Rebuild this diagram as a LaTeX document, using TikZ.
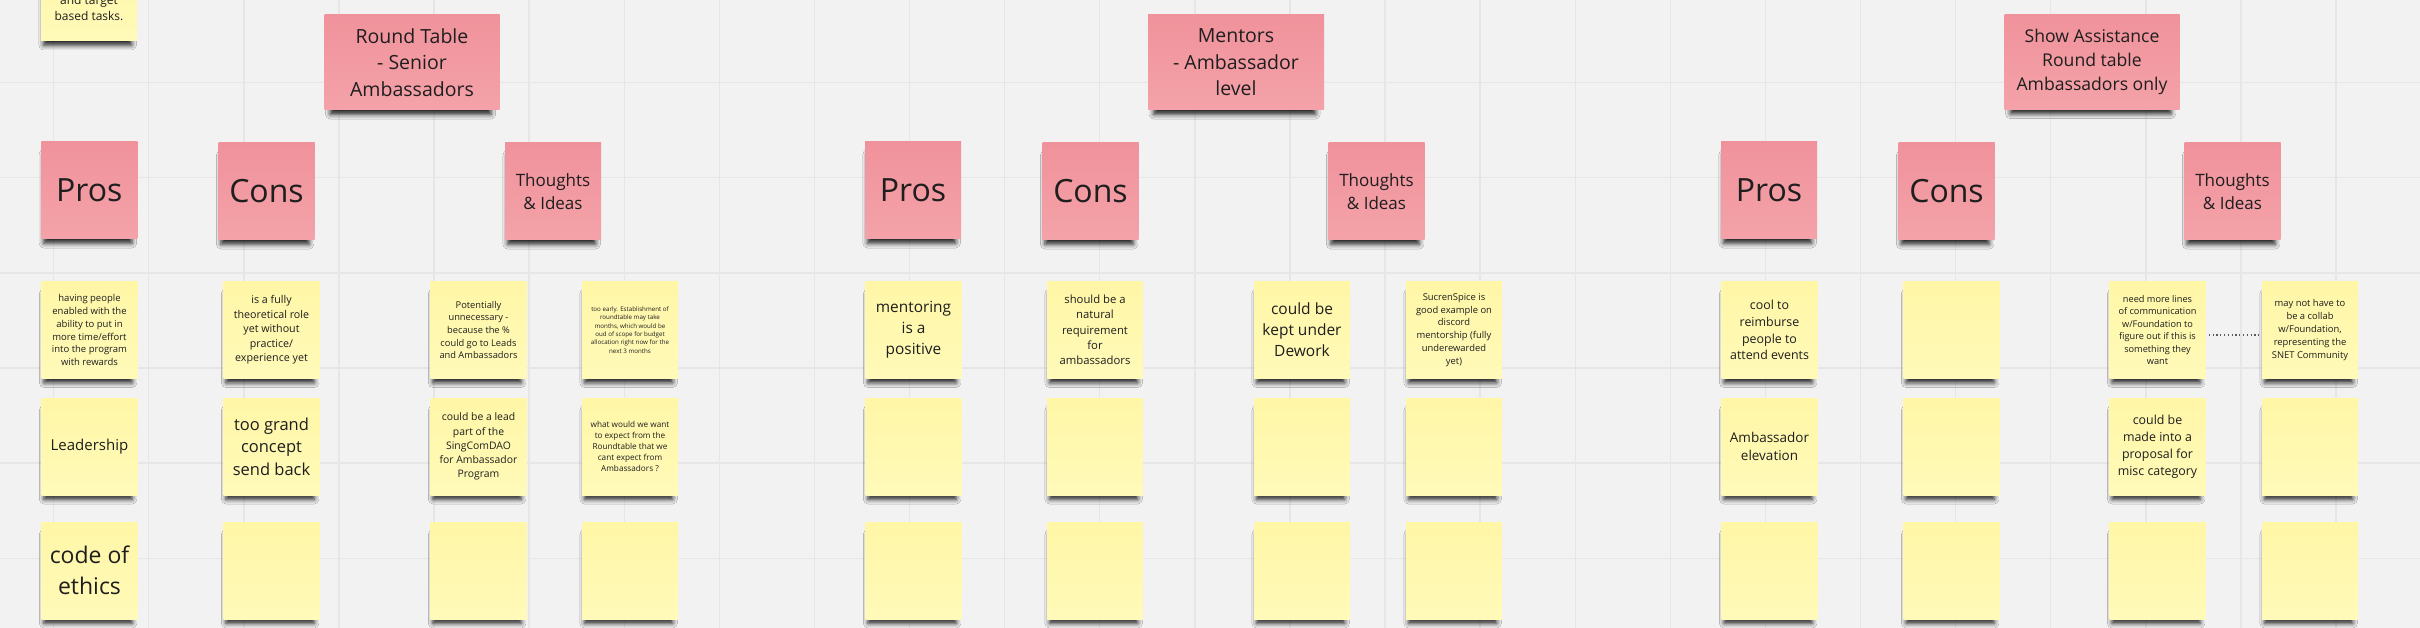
\documentclass[tikz,border=0pt]{standalone}
\usepackage{fontspec}
\setmainfont{Open Sans}
\usetikzlibrary{shadows.blur}
\definecolor{sfondo}{HTML}{F2F2F2}
\definecolor{griglia}{HTML}{E6E6E6}
\definecolor{gialloA}{HTML}{FFF6A6}
\definecolor{gialloB}{HTML}{FFFAB9}
\definecolor{rosaA}{HTML}{F0929B}
\definecolor{rosaB}{HTML}{F4A2A9}
\definecolor{testo}{HTML}{1E1E1E}
\newcommand\corpo[1]{\fontsize{#1}{\dimexpr#1pt*136/100\relax}\selectfont}
\begin{document}
\begin{tikzpicture}[x=1pt, y=-1pt,
    nota/.style={minimum width=96pt, minimum height=97pt, inner sep=0pt, align=center,
        top color=gialloA, bottom color=gialloB, text=testo,
        blur shadow={shadow xshift=-1.5pt, shadow yshift=-9pt, shadow scale=0.92,
            shadow opacity=85, shadow blur radius=5pt}},
    rosa/.style={nota, top color=rosaA, bottom color=rosaB},
    titolo/.style={rosa, minimum width=175pt, minimum height=95pt},
    puntini/.style={line width=1.3pt, color=black!65, dash pattern=on 1.2pt off 2.6pt,
        shorten <=3pt, shorten >=3pt}]
            \useasboundingbox (0,0) rectangle (2420,628);
            \fill[sfondo] (0,0) rectangle (2420,628);
            %griglia
            \foreach \i in {0,...,24}
                \draw[griglia, line width=1.4pt] ({53.6+95.1*\i},0) -- ({53.6+95.1*\i},628);
            \foreach \j in {0,...,5}
                \draw[griglia, line width=1.4pt] (0,{82.7+95.1*\j}) -- (2420,{82.7+95.1*\j});
            %nota tagliata in alto
            \node[nota] (vecchia) at (89,-7.5) {};
            \node[anchor=south, inner sep=0pt, align=center, text=testo, font=\corpo{12}] (vecchiatesto) at (89,20.7) {and target\\based tasks.};
            %titoli
            \node[titolo, font=\corpo{19.5}] (rt) at (412,62.5) {Round Table\\- Senior\\Ambassadors};
            \node[titolo, minimum width=176pt, font=\corpo{19.5}] (mn) at (1236,62.5) {Mentors\\- Ambassador\\level};
            \node[titolo, font=\corpo{17.6}] (sa) at (2092,62) {Show Assistance\\Round table\\Ambassadors only};
            %intestazioni
            \node[rosa, font=\corpo{32}] (pro1) at (89.3,190.5) {Pros};
            \node[rosa, font=\corpo{32}] (con1) at (266.5,191.5) {Cons};
            \node[rosa, font=\corpo{17}] (ide1) at (553,191.5) {Thoughts\\\& Ideas};
            \node[rosa, font=\corpo{32}] (pro2) at (913,190.5) {Pros};
            \node[rosa, font=\corpo{32}] (con2) at (1090.5,191.5) {Cons};
            \node[rosa, font=\corpo{17}] (ide2) at (1376.5,191.5) {Thoughts\\\& Ideas};
            \node[rosa, font=\corpo{32}] (pro3) at (1769,190.5) {Pros};
            \node[rosa, font=\corpo{32}] (con3) at (1946.5,191.5) {Cons};
            \node[rosa, font=\corpo{17}] (ide3) at (2232.5,191.5) {Thoughts\\\& Ideas};
            %note round table
            \node[nota, font=\corpo{9.5}] (pro1a) at (89.5,330) {having people\\enabled with the\\ability to put in\\more time/effort\\into the program\\with rewards};
            \node[nota, font=\corpo{15}] (pro1b) at (89.5,446.5) {Leadership};
            \node[nota, font=\corpo{23}] (pro1c) at (89.5,570.5) {code of\\ethics};
            \node[nota, font=\corpo{10.7}] (con1a) at (271.5,330) {is a fully\\theoretical role\\yet without\\practice/\\experience yet};
            \node[nota, font=\corpo{16.5}] (con1b) at (271.5,446.5) {too grand\\concept\\send back};
            \node[nota, font=\corpo{9.3}] (ida1a) at (478.5,330) {Potentially\\unnecessary -\\because the \%\\could go to Leads\\and Ambassadors};
            \node[nota, font=\corpo{10.4}] (ida1b) at (478.5,446.5) {could be a lead\\part of the\\SingComDAO\\for Ambassador\\Program};
            \node[nota, font=\corpo{6.2}] (idb1a) at (630,330) {too early. Establishment of\\roundtable may take\\months, which would be\\oud of scope for budget\\allocation right now for the\\next 3 months};
            \node[nota, font=\corpo{8.2}] (idb1b) at (630,446.5) {what would we want\\to expect from the\\Roundtable that we\\cant expect from\\Ambassadors ?};
            %note mentors
            \node[nota, font=\corpo{15.4}] (pro2a) at (913.5,330) {mentoring\\is a\\positive};
            \node[nota, font=\corpo{11.3}] (con2a) at (1095,330) {should be a\\natural\\requirement\\for\\ambassadors};
            \node[nota, font=\corpo{15.5}] (ida2a) at (1302,330) {could be\\kept under\\Dework};
            \node[nota, font=\corpo{9.4}] (idb2a) at (1454,330) {SucrenSpice is\\good example on\\discord\\mentorship (fully\\underewarded\\yet)};
            %note show assistance
            \node[nota, font=\corpo{12.4}] (pro3a) at (1769.5,330) {cool to\\reimburse\\people to\\attend events};
            \node[nota, font=\corpo{13.5}] (pro3b) at (1769.5,446.5) {Ambassador\\elevation};
            \node[nota, font=\corpo{9.2}] (ida3a) at (2157.5,330) {need more lines\\of communication\\w/Foundation to\\figure out if this is\\something they\\want};
            \node[nota, font=\corpo{12.4}] (ida3b) at (2157.5,446.5) {could be\\made into a\\proposal for\\misc category};
            \node[nota, font=\corpo{9.4}] (idb3a) at (2310,330) {may not have to\\be a collab\\w/Foundation,\\representing the\\SNET Community};
            %note vuote
            \foreach \x/\y/\n in {271.5/570.5/con1c, 478.5/570.5/ida1c, 630/570.5/idb1c,
                913.5/446.5/pro2b, 913.5/570.5/pro2c, 1095/446.5/con2b, 1095/570.5/con2c,
                1302/446.5/ida2b, 1302/570.5/ida2c, 1454/446.5/idb2b, 1454/570.5/idb2c,
                1769.5/570.5/pro3c, 1951.5/330/con3a, 1951.5/446.5/con3b, 1951.5/570.5/con3c,
                2157.5/570.5/ida3c, 2310/446.5/idb3b, 2310/570.5/idb3c}
                \node[nota] (\n) at (\x,\y) {};
            %collegamento
            \draw[puntini] ([yshift=-5pt]ida3a.east) -- ([yshift=-5pt]idb3a.west);
        \end{tikzpicture}
\end{document}
